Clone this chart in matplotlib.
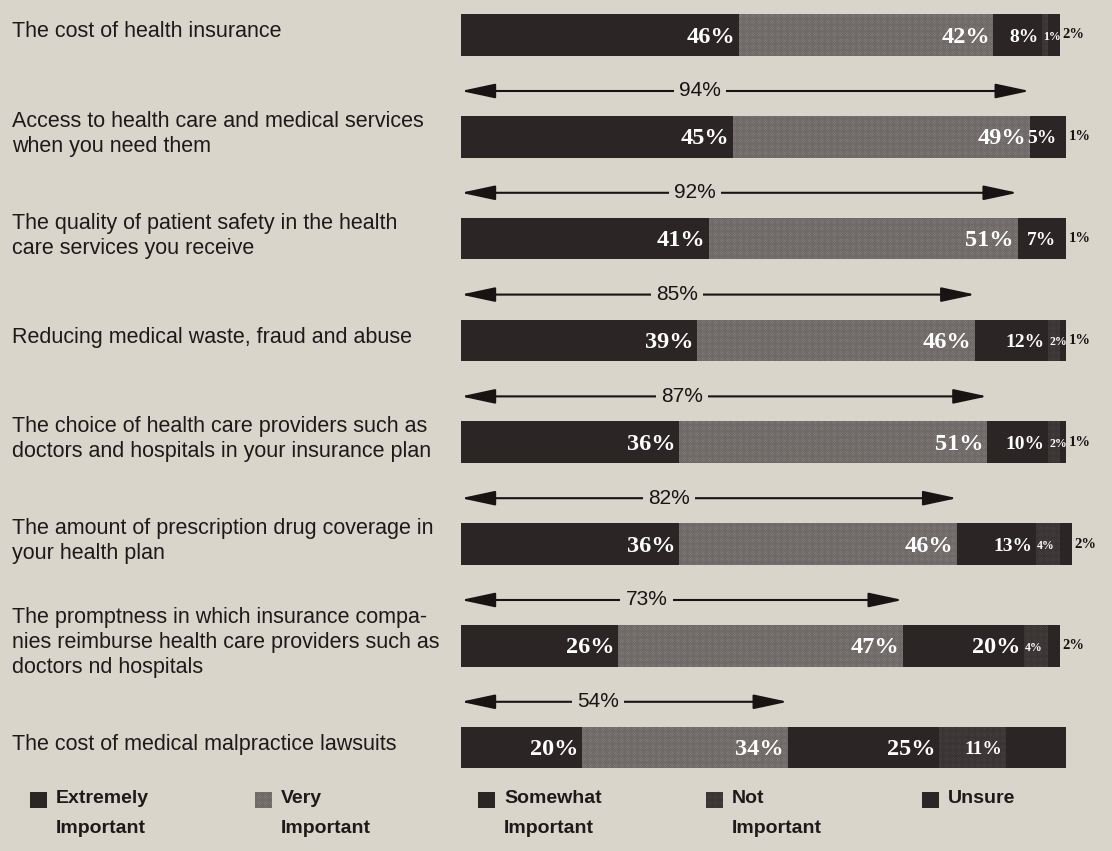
import matplotlib
matplotlib.use('Agg')
import matplotlib.pyplot as plt
import matplotlib.transforms as mtrans
from matplotlib.patches import Rectangle

categories = [
    "The cost of health insurance",
    "Access to health care and medical services\nwhen you need them",
    "The quality of patient safety in the health\ncare services you receive",
    "Reducing medical waste, fraud and abuse",
    "The choice of health care providers such as\ndoctors and hospitals in your insurance plan",
    "The amount of prescription drug coverage in\nyour health plan",
    "The promptness in which insurance compa-\nnies reimburse health care providers such as\ndoctors nd hospitals",
    "The cost of medical malpractice lawsuits",
]
extremely = [46, 45, 41, 39, 36, 36, 26, 20]
very = [42, 49, 51, 46, 51, 46, 47, 34]
somewhat = [8, 5, 7, 12, 10, 13, 20, 25]
not_important = [1, 0, 0, 2, 2, 4, 4, 11]
unsure = [2, 1, 1, 1, 1, 2, 2, 10]
totals = [88, 94, 92, 85, 87, 82, 73, 54]
legend_labels = ["Extremely\nImportant", "Very\nImportant", "Somewhat\nImportant",
                 "Not\nImportant", "Unsure"]

PAPER = '#d9d5cb'
DARK = '#2c2525'
GRAY = '#8d8887'
NOTC = '#4f4848'
seg_colors = [DARK, GRAY, DARK, NOTC, DARK]
seg_hatch = [None, 'x' * 14, None, 'x' * 14, None]
hatch_cols = [DARK, '#6e6867', DARK, '#3a3434', DARK]

plt.rcParams['hatch.linewidth'] = 0.6

W, H = 1112, 851
fig = plt.figure(figsize=(W / 100, H / 100), dpi=100, facecolor=PAPER)
x0 = 461
pxper = 6.05
ax = fig.add_axes([x0 / W, 0, 1 - x0 / W, 1])
ax.set_facecolor(PAPER)
ax.set_xlim(0, (W - x0) / pxper)
c0, step = 35, 101.8
ax.set_ylim((H - c0) / step, -c0 / step)
ax.axis('off')


def label_size(v):
    if v >= 20:
        return 17.5
    if v >= 10:
        return 14
    if v >= 5:
        return 14
    return 8.5


series = [extremely, very, somewhat, not_important, unsure]
n = len(categories)
ys = list(range(n))
lefts = [0] * n
bar_h = 0.41
for k, vals in enumerate(series):
    ax.barh(ys, vals, left=lefts, height=bar_h, color=seg_colors[k],
            edgecolor=hatch_cols[k], linewidth=0, hatch=seg_hatch[k])
    for i in range(n):
        v = vals[i]
        start = lefts[i]
        end = start + v
        if v == 0:
            continue
        if k == 4:
            if v <= 2:
                ax.text(end + 0.4, ys[i], f"{v}%", ha='left', va='center',
                        color='#151111', fontsize=10.5, fontweight='bold',
                        family='Liberation Serif')
            continue
        if v < 5:
            ax.text(start + 0.2, ys[i] + 0.02, f"{v}%", ha='left', va='center',
                    color='white', fontsize=label_size(v), fontweight='bold',
                    family='Liberation Serif')
        else:
            ax.text(end - 0.6, ys[i] + 0.02, f"{v}%", ha='right', va='center',
                    color='white', fontsize=label_size(v), fontweight='bold',
                    family='Liberation Serif')
    lefts = [lefts[i] + vals[i] for i in range(n)]

# arrows with totals
off = 0.45
for i in range(n):
    y = ys[i] - off
    ax.annotate('', xy=(0, y), xytext=(totals[i], y),
                arrowprops=dict(arrowstyle='<|-|>,head_length=1.4,head_width=0.3',
                                color='#181414', lw=1.5, mutation_scale=15,
                                shrinkA=0, shrinkB=0))
    if y - 0.15 > ax.get_ylim()[1]:
        ax.text(totals[i] * 0.42, y, f"{totals[i]}%", ha='center', va='center',
                fontsize=15, family='Liberation Sans', color='#181414',
                bbox=dict(boxstyle='square,pad=0.25', fc=PAPER, ec='none'))

# left category labels
tr = mtrans.blended_transform_factory(fig.transFigure, ax.transData)
for i in range(n):
    ax.text(12 / W, ys[i] - 0.03, categories[i], transform=tr, ha='left', va='center',
            fontsize=15.5, family='Liberation Sans', color='#1e1a1a',
            linespacing=1.25)

# legend
leg_x = [30, 255, 478, 706, 922]
for j, lab in enumerate(legend_labels):
    sq_y = 792
    fig.patches.append(Rectangle((leg_x[j] / W, 1 - (sq_y + 16) / H), 17 / W, 16 / H,
                                 transform=fig.transFigure, facecolor=seg_colors[j],
                                 edgecolor=hatch_cols[j], linewidth=0,
                                 hatch=seg_hatch[j]))
    fig.text((leg_x[j] + 26) / W, 1 - 790 / H, lab, ha='left', va='top',
             fontsize=14, fontweight='bold', family='Liberation Sans',
             color='#1e1a1a', linespacing=2.0)

fig.savefig('out.png', dpi=100, facecolor=PAPER)
